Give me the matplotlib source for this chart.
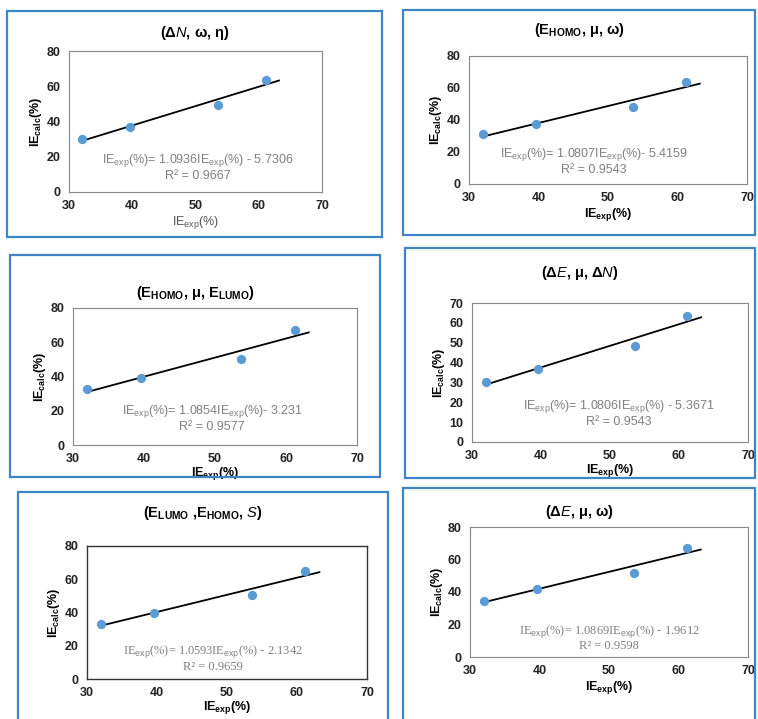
import numpy as np
import matplotlib
matplotlib.use("Agg")
import matplotlib.pyplot as plt
from matplotlib.patches import Rectangle

plt.rcParams['font.family'] = ['Liberation Sans', 'DejaVu Sans']
plt.rcParams['mathtext.fontset'] = 'custom'
plt.rcParams['mathtext.rm'] = 'Liberation Sans'
plt.rcParams['mathtext.it'] = 'Liberation Sans:italic'
plt.rcParams['mathtext.bf'] = 'Liberation Sans:bold'

# donnees
ie_exp = [32.0, 39.6, 53.6, 61.2]
calc_p1 = [30.0, 37.0, 49.5, 63.5]
calc_p2 = [31.0, 37.5, 48.0, 64.0]
calc_p3 = [32.5, 39.0, 50.5, 67.0]
calc_p4 = [30.0, 37.0, 48.5, 63.5]
calc_p5 = [33.0, 40.0, 50.5, 65.0]
calc_p6 = [34.5, 42.0, 52.0, 67.0]

titles = [r"($\mathbf{\Delta}\mathit{N}$, ω, η)",
          r"(E$_{\mathbf{HOMO}}$, μ, ω)",
          r"(E$_{\mathbf{HOMO}}$, μ, E$_{\mathbf{LUMO}}$)",
          r"($\mathbf{\Delta}\mathit{E}$, μ, $\mathbf{\Delta}\mathit{N}$)",
          r"(E$_{\mathbf{LUMO}}$ ,E$_{\mathbf{HOMO}}$, $\mathit{S}$)",
          r"($\mathbf{\Delta}\mathit{E}$, μ, ω)"]
equations = [r"1.0936IE$_{\mathrm{exp}}$(%) - 5.7306", r"1.0807IE$_{\mathrm{exp}}$(%)- 5.4159",
             r"1.0854IE$_{\mathrm{exp}}$(%)- 3.231", r"1.0806IE$_{\mathrm{exp}}$(%) - 5.3671",
             r"1.0593IE$_{\mathrm{exp}}$(%) - 2.1342", r"1.0869IE$_{\mathrm{exp}}$(%) - 1.9612"]
r2_values = ["0.9667", "0.9543", "0.9577", "0.9543", "0.9659", "0.9598"]
calc_all = [calc_p1, calc_p2, calc_p3, calc_p4, calc_p5, calc_p6]

W, H = 758, 719
# cadres bleus et axes en pixels (gauche, haut, droite, bas)
boxes = [(7, 11, 382, 237), (403, 10, 755, 235), (10, 255, 380, 477),
         (405, 248, 755, 478), (18, 492, 388, 725), (403, 488, 755, 725)]
axes_px = [(69, 51, 322, 192), (469, 56, 747, 184), (73, 308, 357, 445),
           (472, 303, 748, 442), (87, 546, 367, 679), (470, 527, 748, 657)]
title_y = [33, 30, 293, 273, 513, 512]
eq_pos = [(0.51, 0.18), (0.45, 0.18), (0.49, 0.20), (0.53, 0.21), (0.45, 0.16), (0.50, 0.15)]
xlabel_pad = [1, 1, 0, 0, 0, 1]
ymax = [80, 80, 80, 70, 80, 80]
ystep = [20, 20, 20, 10, 20, 20]

fig = plt.figure(figsize=(W / 100, H / 100), dpi=100)

for i in range(6):
    bl, bt, br, bb = boxes[i]
    fig.add_artist(Rectangle((bl / W, 1 - bb / H), (br - bl) / W, (bb - bt) / H,
                             transform=fig.transFigure, fill=False,
                             edgecolor='#3d85c6', linewidth=1.6, clip_on=False))
    l, t, r, b = axes_px[i]
    ax = fig.add_axes([l / W, 1 - b / H, (r - l) / W, (b - t) / H])
    y = np.array(calc_all[i])
    x = np.array(ie_exp)
    ax.scatter(x, y, s=32, color='#5b9bd5', zorder=3)
    k, c = np.polyfit(x, y, 1)
    xl = np.array([x.min(), x.max() + 2])
    ax.plot(xl, k * xl + c, color='black', linewidth=1.3, zorder=2)
    ax.set_xlim(30, 70)
    ax.set_ylim(0, ymax[i])
    ax.set_xticks(range(30, 71, 10))
    ax.set_yticks(range(0, ymax[i] + 1, ystep[i]))
    ax.tick_params(length=0, labelsize=9, pad=6)
    for lab in ax.get_xticklabels() + ax.get_yticklabels():
        lab.set_fontweight('bold')
        lab.set_color('#222222')
    for sp in ax.spines.values():
        sp.set_color('#333333' if i == 4 else '#888888')
        sp.set_linewidth(1.0 if i == 4 else 0.8)
    ax.set_ylabel(r"IE$_{\mathbf{calc}}$(%)", fontsize=9, fontweight='bold', labelpad=2)
    if i == 0:
        ax.set_xlabel(r"IE$_{\mathrm{exp}}$(%)", fontsize=9, color='#555555', labelpad=xlabel_pad[i])
    else:
        ax.set_xlabel(r"IE$_{\mathbf{exp}}$(%)", fontsize=9, fontweight='bold', labelpad=xlabel_pad[i])
    fam = ['Liberation Serif'] if i >= 4 else ['Liberation Sans']
    txt = r"IE$_{\mathrm{exp}}$(%)= " + equations[i] + "\nR² = " + r2_values[i]
    ax.text(eq_pos[i][0], eq_pos[i][1], txt, transform=ax.transAxes, ha='center',
            va='center', fontsize=9, color='#808080', family=fam, linespacing=1.1)
    fig.text(((bl + br) / 2) / W, 1 - title_y[i] / H, titles[i], ha='center', va='center',
             fontsize=10.5, fontweight='bold')

fig.savefig("out.png", dpi=100)
